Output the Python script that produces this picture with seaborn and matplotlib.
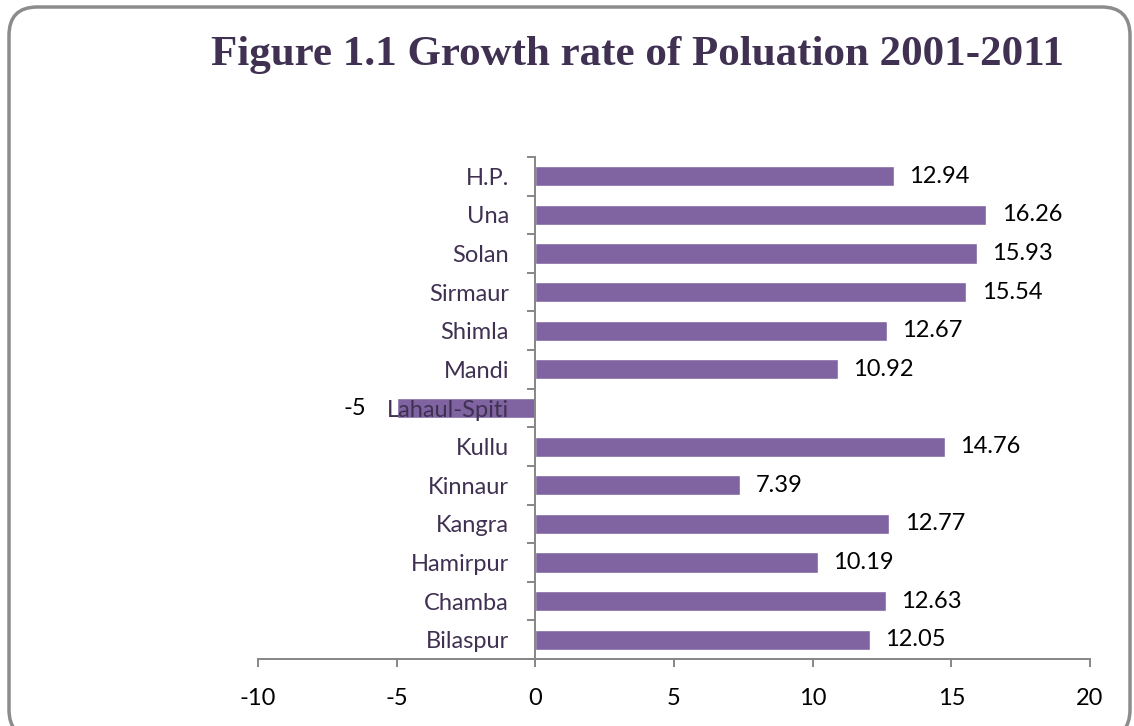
import matplotlib
matplotlib.use("Agg")
import matplotlib.pyplot as plt
import seaborn as sns
import pandas as pd
from matplotlib.patches import FancyBboxPatch
from matplotlib.ticker import FixedLocator

# Data (top to bottom as shown)
districts = ["H.P.", "Una", "Solan", "Sirmaur", "Shimla", "Mandi", "Lahaul-Spiti",
             "Kullu", "Kinnaur", "Kangra", "Hamirpur", "Chamba", "Bilaspur"]
growth = [12.94, 16.26, 15.93, 15.54, 12.67, 10.92, -5,
          14.76, 7.39, 12.77, 10.19, 12.63, 12.05]
x_ticks = [-10, -5, 0, 5, 10, 15, 20]

df = pd.DataFrame({"District": districts, "Growth": growth})

sns.set_style("white")
plt.rcParams['font.family'] = ['Lato', 'DejaVu Sans']
plt.rcParams['axes.unicode_minus'] = False

bar_color = "#8064A2"
axis_grey = "#868686"
label_color = "#403152"
fs = 17

fig = plt.figure(figsize=(11.34, 7.26), dpi=100)

# rounded outer frame
frame = FancyBboxPatch((9 / 1134, -12 / 726), 1121 / 1134, 731 / 726,
                       boxstyle="round,pad=0,rounding_size=0.025",
                       transform=fig.transFigure, facecolor="none",
                       edgecolor="#8c8c8c", linewidth=2.5, mutation_aspect=1134 / 726,
                       clip_on=False)
fig.patches.append(frame)

ax = fig.add_axes([258 / 1134, 1 - 659 / 726, 832 / 1134, 502 / 726])
sns.barplot(data=df, x="Growth", y="District", color=bar_color, orient="h",
            width=0.52, saturation=1, ax=ax)
# bars behind the category labels (Lahaul-Spiti label sits on its bar)
for p in ax.patches:
    p.set_zorder(0.5)

ax.set_xlim(-10, 20)
ax.set_ylim(len(districts) - 0.5, -0.5)
ax.set_xticks(x_ticks)
ax.set_xlabel("")
ax.set_ylabel("")

for s in ["top", "right"]:
    ax.spines[s].set_visible(False)
ax.spines["left"].set_position(("data", 0))
for s in ["left", "bottom"]:
    ax.spines[s].set_color(axis_grey)
    ax.spines[s].set_linewidth(1.4)

ax.tick_params(axis="x", direction="out", length=6, width=1.4, color=axis_grey,
               labelsize=fs, labelcolor="black", pad=15, bottom=True)
ax.tick_params(axis="y", which="major", length=0, labelsize=fs,
               labelcolor=label_color, pad=19, left=True)
ax.yaxis.set_minor_locator(FixedLocator([i - 0.5 for i in range(len(districts) + 1)]))
ax.tick_params(axis="y", which="minor", direction="out", length=6, width=1.4,
               color=axis_grey, left=True)

for i, v in enumerate(growth):
    if v >= 0:
        ax.annotate(f"{v:g}", (v, i), xytext=(11, 0), textcoords="offset points",
                    ha="left", va="center", fontsize=fs, color="black")
    else:
        ax.annotate(f"{v:g}", (v, i), xytext=(-22, 0), textcoords="offset points",
                    ha="right", va="center", fontsize=fs, color="black")

fig.text(637 / 1134, 1 - 55 / 726, "Figure 1.1 Growth rate of Poluation 2001-2011",
         ha="center", va="center", fontsize=31, fontweight="bold",
         family="Liberation Serif", color=label_color)

fig.savefig("out.png", dpi=100)
